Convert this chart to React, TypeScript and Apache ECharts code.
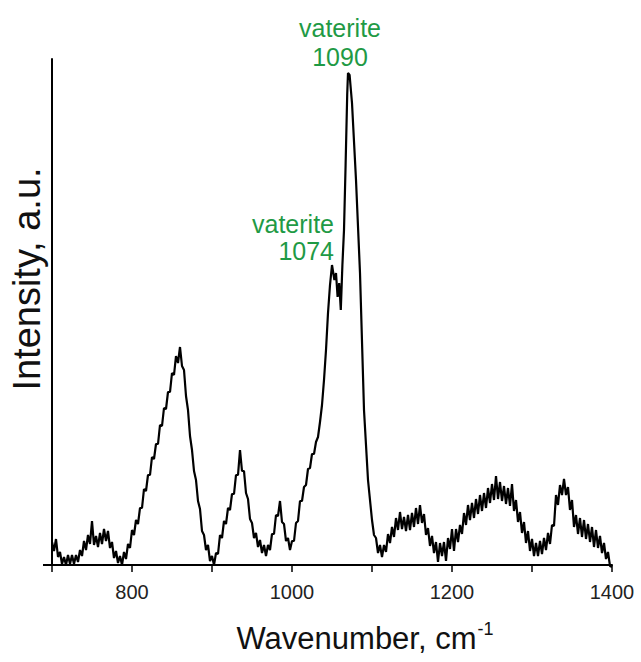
import React, { useEffect, useRef } from "react";
import * as echarts from "echarts";

const waveNumbers = [
  700, 702.5, 705, 707.5, 710, 712.5, 715, 717.5, 720, 722.5, 725, 727.5, 730, 732.5, 735, 737.5,
  740, 742.5, 745, 747.5, 750, 752.5, 755, 757.5, 760, 762.5, 765, 767.5, 770, 772.5, 775, 777.5,
  780, 782.5, 785, 787.5, 790, 792.5, 795, 797.5, 800, 802.5, 805, 807.5, 810, 812.5, 815, 817.5,
  820, 822.5, 825, 827.5, 830, 832.5, 835, 837.5, 840, 842.5, 845, 847.5, 850, 852.5, 855, 857.5,
  860, 862.5, 865, 867.5, 870, 872.5, 875, 877.5, 880, 882.5, 885, 887.5, 890, 892.5, 895, 897.5,
  900, 902.5, 905, 907.5, 910, 912.5, 915, 917.5, 920, 922.5, 925, 927.5, 930, 932.5, 935, 937.5,
  940, 942.5, 945, 947.5, 950, 952.5, 955, 957.5, 960, 962.5, 965, 967.5, 970, 972.5, 975, 977.5,
  980, 982.5, 985, 987.5, 990, 992.5, 995, 997.5, 1000, 1002.5, 1005, 1007.5, 1010, 1012.5, 1015, 1017.5,
  1020, 1022.5, 1025, 1027.5, 1030, 1032.5, 1035, 1037.5, 1040, 1042.5, 1045, 1047.5, 1050, 1053, 1055, 1057,
  1059, 1061, 1063, 1065, 1067, 1069, 1070, 1072, 1075, 1080, 1085, 1090, 1095, 1100, 1102.5, 1105,
  1107.5, 1110, 1112.5, 1115, 1117.5, 1120, 1122.5, 1125, 1127.5, 1130, 1132.5, 1135, 1137.5, 1140, 1142.5, 1145,
  1147.5, 1150, 1152.5, 1155, 1157.5, 1160, 1162.5, 1165, 1167.5, 1170, 1172.5, 1175, 1177.5, 1180, 1182.5, 1185,
  1187.5, 1190, 1192.5, 1195, 1197.5, 1200, 1202.5, 1205, 1207.5, 1210, 1212.5, 1215, 1217.5, 1220, 1222.5, 1225,
  1227.5, 1230, 1232.5, 1235, 1237.5, 1240, 1242.5, 1245, 1247.5, 1250, 1252.5, 1255, 1257.5, 1260, 1262.5, 1265,
  1267.5, 1270, 1272.5, 1275, 1277.5, 1280, 1282.5, 1285, 1287.5, 1290, 1292.5, 1295, 1297.5, 1300, 1302.5, 1305,
  1307.5, 1310, 1312.5, 1315, 1317.5, 1320, 1322.5, 1325, 1327.5, 1330, 1332.5, 1335, 1337.5, 1340, 1342.5, 1345,
  1347.5, 1350, 1352.5, 1355, 1357.5, 1360, 1362.5, 1365, 1367.5, 1370, 1372.5, 1375, 1377.5, 1380, 1382.5, 1385,
  1387.5, 1390, 1392.5, 1395, 1397.5, 1400,
];

const intensity = [
  23, 14, 26, 8, 13, 1, 8, 0, 10, 1, 10, 1, 10, 3, 15, 9,
  24, 15, 30, 21, 44, 20, 29, 18, 32, 21, 36, 24, 34, 17, 23, 7,
  14, 2, 9, 0, 13, 6, 21, 17, 35, 30, 45, 41, 57, 57, 76, 74,
  90, 90, 108, 106, 121, 121, 140, 139, 157, 156, 173, 173, 192, 190, 209, 202,
  218, 199, 195, 169, 155, 129, 115, 94, 85, 64, 56, 34, 30, 15, 20, 4,
  9, 0, 12, 11, 30, 27, 44, 41, 57, 55, 71, 71, 90, 90, 115, 94,
  94, 72, 66, 46, 42, 27, 32, 18, 25, 12, 20, 9, 20, 15, 31, 31,
  50, 49, 64, 43, 41, 24, 27, 15, 24, 24, 42, 44, 64, 64, 78, 80,
  96, 97, 111, 111, 123, 128, 143, 160, 185, 215, 252, 280, 300, 285, 292, 268,
  282, 255, 300, 335, 400, 470, 492, 490, 462, 385, 292, 155, 85, 45, 30, 27,
  12, 20, 8, 20, 13, 31, 22, 38, 28, 47, 35, 53, 36, 48, 34, 50,
  35, 52, 38, 57, 41, 60, 42, 51, 30, 37, 19, 29, 12, 23, 3, 22,
  9, 23, 4, 27, 16, 36, 14, 36, 23, 40, 31, 52, 40, 60, 45, 62,
  47, 66, 51, 70, 54, 72, 57, 77, 62, 81, 65, 89, 66, 83, 64, 79,
  61, 77, 59, 81, 54, 65, 43, 53, 32, 43, 22, 34, 14, 26, 9, 22,
  9, 24, 11, 27, 15, 32, 21, 40, 39, 70, 60, 80, 70, 86, 70, 78,
  55, 65, 38, 50, 31, 47, 28, 45, 26, 41, 23, 38, 18, 35, 17, 29,
  12, 22, 6, 13, -1, -2,
];

const xTickLabels = [800, 1000, 1200, 1400];

const annotations = [
  { lines: ["vaterite", "1090"], x: 340, y: [28, 57], align: "center" },
  { lines: ["vaterite", "1074"], x: 334, y: [224, 251], align: "right" },
];

export default function App() {
  const ref = useRef<HTMLDivElement>(null);
  useEffect(() => {
    if (!ref.current) return;
    const chart = echarts.init(ref.current, null, { renderer: "svg" });
    const font = "Liberation Sans, Arial, Helvetica, sans-serif";
    const green = "#1f9a45";
    const graphics: any[] = [
      {
        type: "line",
        shape: { x1: 43, y1: 565, x2: 53, y2: 565 },
        style: { stroke: "#000", lineWidth: 2 },
        z: 10,
      },
      {
        type: "text",
        x: 365,
        y: 638,
        style: {
          text: "{a|Wavenumber, cm}{b|-1}",
          align: "center",
          verticalAlign: "middle",
          rich: {
            a: { fontSize: 31, fontFamily: font, fill: "#111", lineHeight: 36 },
            b: { fontSize: 18, fontFamily: font, fill: "#111", verticalAlign: "top", padding: [0, 0, 13, 1] },
          },
        },
      },
      {
        type: "text",
        x: 27,
        y: 279,
        rotation: Math.PI / 2,
        style: {
          text: "Intensity, a.u.",
          fontSize: 38,
          fontFamily: font,
          fill: "#111",
          align: "center",
          verticalAlign: "middle",
        },
      },
    ];
    annotations.forEach((a) => {
      a.lines.forEach((t, i) => {
        graphics.push({
          type: "text",
          x: a.x,
          y: a.y[i],
          style: {
            text: t,
            fontSize: 25,
            fontFamily: font,
            fill: green,
            align: a.align,
            verticalAlign: "middle",
          },
        });
      });
    });

    chart.setOption({
      animation: false,
      backgroundColor: "#fff",
      grid: { left: 52, right: 29, top: 59, bottom: 97, containLabel: false },
      xAxis: {
        type: "value",
        min: 700,
        max: 1400,
        interval: 100,
        axisLine: { show: true, onZero: false, lineStyle: { color: "#000", width: 2 } },
        axisTick: { show: true, length: 7, lineStyle: { color: "#000", width: 1.5 } },
        axisLabel: {
          formatter: (v: number) => (xTickLabels.includes(v) ? String(v) : ""),
          fontSize: 20,
          fontFamily: font,
          color: "#222",
          margin: 17,
        },
        splitLine: { show: false },
      },
      yAxis: {
        type: "value",
        min: 0,
        max: 506,
        axisLine: { show: true, lineStyle: { color: "#000", width: 2 } },
        axisTick: { show: false },
        axisLabel: { show: false },
        splitLine: { show: false },
      },
      series: [
        {
          type: "line",
          data: waveNumbers.map((w, i) => [w, intensity[i]]),
          showSymbol: false,
          clip: false,
          lineStyle: { color: "#000", width: 2.2 },
        },
      ],
      graphic: graphics,
    });
    return () => chart.dispose();
  }, []);
  return (
    <div
      ref={ref}
      style={{ position: "fixed", left: 0, top: 0, width: 641, height: 662, background: "#fff" }}
    />
  );
}
